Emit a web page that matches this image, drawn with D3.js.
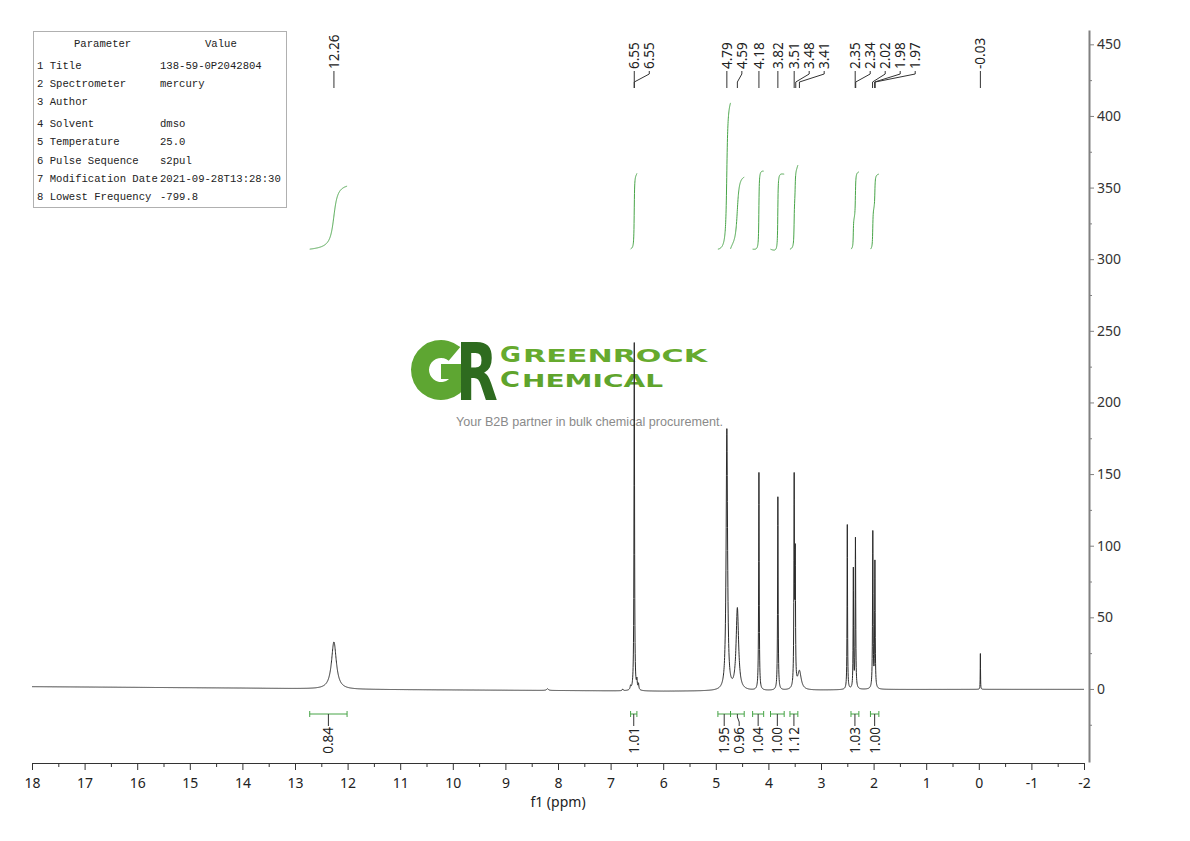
<!DOCTYPE html>
<html><head><meta charset="utf-8">
<script src="https://cdn.jsdelivr.net/npm/d3@7"></script>
<style>body{margin:0;background:#fff}svg{display:block}</style>
</head><body>
<svg id="c" width="1190" height="841"></svg>
<script>
// ---------------- data ----------------
const xMajorTicks = [18,17,16,15,14,13,12,11,10,9,8,7,6,5,4,3,2,1,0,-1,-2];
const yMajorTicks = [0,50,100,150,200,250,300,350,400,450];

const peakPpm    = [12.26, 8.20, 6.77, 6.62, 6.55, 6.50, 6.47, 4.79, 4.59, 4.18, 3.82, 3.51, 3.49, 3.41, 2.50, 2.385, 2.345, 2.015, 1.975, -0.03];
const peakHeight = [33,    1.2,  1.2,  2.5,  243,  6,    4,    182,  57,   152,  135,  143,  88,   13,   115,  83,    105,   109,   88,    25];
const peakWidth  = [0.055, 0.02, 0.01, 0.01, 0.006,0.008,0.008,0.016,0.028,0.006,0.006,0.006,0.006,0.04, 0.005,0.005, 0.006, 0.006, 0.006, 0.003];

const baselinePpm = [18, 16, 14, 13, 12, 10, 8, 6, 4, 2, 0, -2];
const baselineVal = [1.6, 1.1, 0.6, 0.2, -0.3, -0.7, -1.1, -1.6, -1.3, -0.4, -0.3, -0.3];

const peakLabels   = ["12.26","6.55","6.55","4.79","4.59","4.18","3.82","3.51","3.48","3.41","2.35","2.34","2.02","1.98","1.97","-0.03"];
const peakLabelPpm = [12.26, 6.55, 6.55, 4.79, 4.59, 4.18, 3.82, 3.51, 3.48, 3.41, 2.35, 2.34, 2.02, 1.98, 1.97, -0.03];

const integralFrom  = [12.72, 6.62, 4.96, 4.72, 4.30, 3.96, 3.59, 2.43, 2.06];
const integralTo    = [12.01, 6.50, 4.72, 4.46, 4.09, 3.70, 3.44, 2.28, 1.90];
const integralValue = [0.84, 1.01, 1.95, 0.96, 1.04, 1.00, 1.12, 1.03, 1.00];

const paramNames  = ["1 Title","2 Spectrometer","3 Author","4 Solvent","5 Temperature","6 Pulse Sequence","7 Modification Date","8 Lowest Frequency"];
const paramValues = ["138-59-0P2042804","mercury","","dmso","25.0","s2pul","2021-09-28T13:28:30","-799.8"];

// ---------------- setup ----------------
const svg = d3.select("#c");
const x = d3.scaleLinear().domain([18,-2]).range([32,1084]);
const y = d3.scaleLinear().domain([-51,460]).range([762,30]);
const baseline = d3.scaleLinear().domain(baselinePpm).range(baselineVal);
const sansFont = "'Noto Sans','Open Sans',sans-serif";

function spec(p){
  let v = baseline(p);
  for(let i=0;i<peakPpm.length;i++){
    const d=(p-peakPpm[i])/peakWidth[i];
    v += peakHeight[i]/(1+d*d);
  }
  return v;
}

// ---------------- parameter table ----------------
const tbl = svg.append("g").attr("font-family","'Liberation Mono',monospace").attr("font-size","10.6px").attr("fill","#222");
tbl.append("rect").attr("x",33.5).attr("y",31.5).attr("width",253).attr("height",176)
  .attr("fill","none").attr("stroke","#b0b0b0").attr("stroke-width",1);
tbl.append("text").attr("x",74).attr("y",47).text("Parameter");
tbl.append("text").attr("x",205).attr("y",47).text("Value");
paramNames.forEach((n,i)=>{
  const yy = 69 + i*18.1 + (i>=3?4:0);
  tbl.append("text").attr("x",37).attr("y",yy).text(n);
  tbl.append("text").attr("x",160).attr("y",yy).text(paramValues[i]);
});

// ---------------- logo ----------------
const logo = svg.append("g");
const gArc = d3.arc().innerRadius(12).outerRadius(30).startAngle(Math.PI/2).endAngle(2*Math.PI+Math.PI/4.5);
logo.append("path").attr("d",gArc()).attr("transform","translate(441,370)").attr("fill","#5ea632");
logo.append("rect").attr("x",441).attr("y",364).attr("width",28).attr("height",15).attr("fill","#5ea632");
logo.append("text").attr("transform","translate(456,400) scale(0.68,1)").attr("font-family","'DejaVu Sans',sans-serif").attr("font-weight","bold")
  .attr("font-size","80px").attr("fill","#2e6b1f").text("R");
const lf = "'DejaVu Sans',sans-serif";
logo.append("text").attr("x",500).attr("y",362).attr("font-family",lf).attr("font-weight","bold")
  .attr("font-size","22px").attr("fill","#66aa2e").attr("textLength",21).attr("lengthAdjust","spacingAndGlyphs").text("G");
logo.append("text").attr("x",523).attr("y",362).attr("font-family",lf).attr("font-weight","bold")
  .attr("font-size","18.5px").attr("fill","#66aa2e").attr("textLength",184).attr("lengthAdjust","spacingAndGlyphs").text("REENROCK");
logo.append("text").attr("x",500).attr("y",387).attr("font-family",lf).attr("font-weight","bold")
  .attr("font-size","22px").attr("fill","#5fa42c").attr("textLength",20).attr("lengthAdjust","spacingAndGlyphs").text("C");
logo.append("text").attr("x",522).attr("y",387).attr("font-family",lf).attr("font-weight","bold")
  .attr("font-size","18.5px").attr("fill","#5fa42c").attr("textLength",141).attr("lengthAdjust","spacingAndGlyphs").text("HEMICAL");
logo.append("text").attr("x",456).attr("y",426).attr("font-family","'Liberation Sans',Arial,sans-serif")
  .attr("font-size","12.6px").attr("fill","#8a8a8a").text("Your B2B partner in bulk chemical procurement.");

// ---------------- axes ----------------
const minorX = d3.range(17.5,-2,-1);
const gx = svg.append("g").attr("transform","translate(0,763)");
gx.call(d3.axisBottom(x).tickValues(xMajorTicks).tickSize(7).tickSizeOuter(0).tickPadding(8).tickFormat(d=>String(d)));
gx.append("g").call(d3.axisBottom(x).tickValues(minorX).tickSize(4).tickSizeOuter(0).tickFormat(""))
  .select(".domain").remove();
gx.selectAll("text").attr("font-family",sansFont).attr("font-size","14px").attr("fill","#222");
gx.selectAll("line,path").attr("stroke","#333");
svg.append("text").attr("x",x(8)).attr("y",807).attr("text-anchor","middle")
  .attr("font-family",sansFont).attr("font-size","14px").attr("fill","#222").text("f1 (ppm)");

const minorY = d3.range(-25,451,50);
const gy = svg.append("g").attr("transform","translate(1089,0)");
gy.call(d3.axisRight(y).tickValues(yMajorTicks).tickSize(5).tickSizeOuter(0).tickPadding(3).tickFormat(d=>String(d)));
gy.append("g").call(d3.axisRight(y).tickValues(minorY).tickSize(3).tickSizeOuter(0).tickFormat(""))
  .select(".domain").remove();
gy.selectAll("text").attr("font-family",sansFont).attr("font-size","14px").attr("fill","#333");
gy.selectAll("line").attr("stroke","#808080");
gy.selectAll(".domain").attr("stroke","#808080").attr("stroke-width",2);

// ---------------- spectrum ----------------
let pts = d3.range(18,-2.0001,-0.0025).concat(peakPpm);
pts.sort((a,b)=>b-a);
const line = d3.line().x(p=>x(p)).y(p=>y(spec(p)));
svg.append("path").attr("d",line(pts)).attr("fill","none").attr("stroke","#2a2a2a").attr("stroke-width",1);

// ---------------- integral curves ----------------
const yInt = d3.scaleLinear().domain([0,1]).range([y(307), y(307)-75]);
integralFrom.forEach((f,k)=>{
  const ps = d3.range(f, integralTo[k]-0.0001, -0.002);
  let c=0; const cum=[];
  ps.forEach(p=>{ c+=spec(p); cum.push(c); });
  const tot = cum[cum.length-1];
  const data = ps.map((p,i)=>[p, cum[i]/tot*integralValue[k]]);
  svg.append("path").attr("d", d3.line().x(d=>x(d[0])).y(d=>yInt(d[1]))(data))
    .attr("fill","none").attr("stroke","#47a447").attr("stroke-width",1);
});

// ---------------- label spreading ----------------
function spread(xs, gap){
  const out=[]; let last=-1e9;
  xs.forEach(v=>{ const p=Math.max(v,last+gap); out.push(p); last=p; });
  return out;
}

// peak labels (top)
const pkX = peakLabelPpm.map(p=>x(p));
const pkL = spread(pkX, 15);
const gl = svg.append("g");
peakLabels.forEach((t,i)=>{
  const px=pkX[i], lx=pkL[i];
  const path = Math.abs(px-lx)<0.5 ? `M${px},71V88` : `M${lx},71V74L${px},82V88`;
  gl.append("path").attr("d",path).attr("fill","none").attr("stroke","#333").attr("stroke-width",1);
  gl.append("text").attr("transform",`translate(${lx},69) rotate(-90)`).attr("dy","0.36em")
    .attr("font-family",sansFont).attr("font-size","13.5px").attr("fill","#222").text(t);
});

// integral brackets (bottom)
const ctr = integralFrom.map((f,k)=>(x(f)+x(integralTo[k]))/2);
const inL = spread(ctr, 15);
const gi = svg.append("g");
integralFrom.forEach((f,k)=>{
  const x1=x(f), x2=x(integralTo[k]);
  gi.append("path").attr("d",`M${x1},711V717M${x1},714H${x2}M${x2},711V717`)
    .attr("fill","none").attr("stroke","#47a447").attr("stroke-width",1);
  const cx=ctr[k], lx=inL[k];
  const path = Math.abs(cx-lx)<0.5 ? `M${cx},714V726` : `M${cx},714V717L${lx},722V726`;
  gi.append("path").attr("d",path).attr("fill","none").attr("stroke","#333").attr("stroke-width",1);
  gi.append("text").attr("transform",`translate(${lx},727) rotate(-90)`).attr("dy","0.36em").attr("text-anchor","end")
    .attr("font-family",sansFont).attr("font-size","13.5px").attr("fill","#222").text(integralValue[k].toFixed(2));
});
</script>
</body></html>
